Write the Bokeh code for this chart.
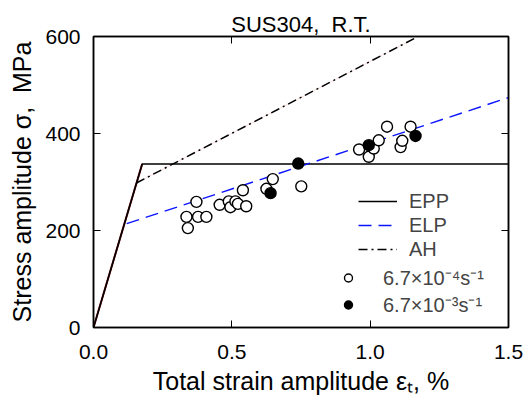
from bokeh.plotting import figure
from bokeh.models import (Range1d, LinearAxis, Legend, LegendItem, FixedTicker,
                          NumeralTickFormatter, CustomJSTickFormatter)
from bokeh.embed import file_html
from bokeh.resources import INLINE

# ---- data ----
epp_strain = [0.0, 0.176, 1.5]
epp_stress = [0.0, 337.0, 337.0]
elp_strain = [0.12, 1.5]
elp_stress = [214.0, 474.0]
ah_strain = [0.155, 1.16]
ah_stress = [298.0, 596.0]

slow_strain = [0.336, 0.341, 0.372, 0.378, 0.408, 0.456, 0.489, 0.495, 0.513, 0.522,
               0.540, 0.552, 0.625, 0.648, 0.751, 0.960, 0.995, 1.013, 1.031, 1.061,
               1.110, 1.116, 1.146]
slow_stress = [228, 205, 259, 228, 228, 253, 260, 248, 260, 255,
               283, 250, 286, 306, 291, 367, 352, 369, 386, 414,
               372, 385, 414]
fast_strain = [0.640, 0.740, 0.995, 1.164]
fast_stress = [277, 338, 376, 395]

x_ticks = [0.0, 0.5, 1.0, 1.5]
y_ticks = [0, 200, 400, 600]

FONT = "Liberation Sans"

p = figure(width=528, height=401, output_backend="svg", toolbar_location=None,
           x_range=Range1d(0, 1.5), y_range=Range1d(0, 600),
           min_border_left=93, min_border_right=20, min_border_top=36, min_border_bottom=74,
           title="SUS304,\u00a0\u00a0R.T.")
p.title.align = "center"
p.title.text_font = FONT
p.title.text_font_size = "22px"
p.title.text_font_style = "normal"
p.title.text_color = "black"
p.title.standoff = 0
p.grid.visible = False
p.outline_line_color = "black"
p.outline_line_width = 1.5
p.background_fill_color = "white"
p.border_fill_color = "white"

for ax, ticks in ((p.xaxis[0], x_ticks), (p.yaxis[0], y_ticks)):
    ax.ticker = FixedTicker(ticks=ticks)
    ax.major_tick_in = 7
    ax.major_tick_out = 0
    ax.minor_tick_line_color = None
    ax.axis_line_color = "black"
    ax.axis_line_width = 1.5
    ax.major_tick_line_color = "black"
    ax.major_label_text_font = FONT
    ax.major_label_text_font_size = "21px"
    ax.major_label_text_color = "black"
    ax.axis_label_text_font = FONT
    ax.axis_label_text_font_size = "25px"
    ax.axis_label_text_font_style = "normal"
    ax.axis_label_text_color = "black"

p.xaxis[0].formatter = NumeralTickFormatter(format="0.0")
p.xaxis[0].major_label_standoff = 17
p.xaxis[0].axis_label = "Total strain amplitude \u03b5\u209c, %"
p.xaxis[0].axis_label_standoff = 5
p.yaxis[0].major_label_standoff = 13
p.yaxis[0].axis_label = "Stress amplitude \u03c3,\u00a0\u00a0MPa"
p.yaxis[0].axis_label_standoff = 6

top = LinearAxis(ticker=FixedTicker(ticks=x_ticks), major_tick_in=7, major_tick_out=0,
                 minor_tick_line_color=None, formatter=CustomJSTickFormatter(code="return ''"),
                 major_label_standoff=0, axis_line_width=1.5)
right = LinearAxis(ticker=FixedTicker(ticks=y_ticks), major_tick_in=7, major_tick_out=0,
                   minor_tick_line_color=None, formatter=CustomJSTickFormatter(code="return ''"),
                   major_label_standoff=0, axis_line_width=1.5)
p.add_layout(top, "above")
p.add_layout(right, "right")

# faint reddish guide lines underneath (as in the reference)
p.line(ah_strain, ah_stress, line_color="#f7c4c4", line_width=0.6)
p.line(epp_strain[:2], epp_stress[:2], line_color="#8a1010", line_width=2.0)

r_epp = p.line(epp_strain, epp_stress, line_color="black", line_width=1.6)
r_elp = p.line(elp_strain, elp_stress, line_color="#0a14ff", line_width=1.4, line_dash="13 7")
r_ah = p.line(ah_strain, ah_stress, line_color="black", line_width=1.5, line_dash="9 4 2 4")
r_slow = p.scatter(slow_strain, slow_stress, size=11, marker="circle",
                   fill_color="white", line_color="black", line_width=1.4)
r_fast = p.scatter(fast_strain, fast_stress, size=11, marker="circle",
                   fill_color="black", line_color="black", line_width=1.4)

leg1 = Legend(items=[LegendItem(label="EPP", renderers=[r_epp]),
                     LegendItem(label="ELP", renderers=[r_elp]),
                     LegendItem(label="AH", renderers=[r_ah])],
              location=(265, 66), glyph_width=39, glyph_height=24, label_height=24,
              label_standoff=12, spacing=0, padding=0, margin=0,
              border_line_color=None, background_fill_alpha=0,
              label_text_font=FONT, label_text_font_size="20px")
leg2 = Legend(items=[LegendItem(label="6.7\u00d710\u207b\u2074s\u207b\u00b9", renderers=[r_slow]),
                     LegendItem(label="6.7\u00d710\u207b\u00b3s\u207b\u00b9", renderers=[r_fast])],
              location=(245, 9), glyph_width=20, glyph_height=27, label_height=27,
              label_standoff=25, spacing=0, padding=0, margin=0,
              border_line_color=None, background_fill_alpha=0,
              label_text_font=FONT, label_text_font_size="20px")
p.add_layout(leg1)
p.add_layout(leg2)

open("out.html", "w").write(file_html(p, INLINE))
